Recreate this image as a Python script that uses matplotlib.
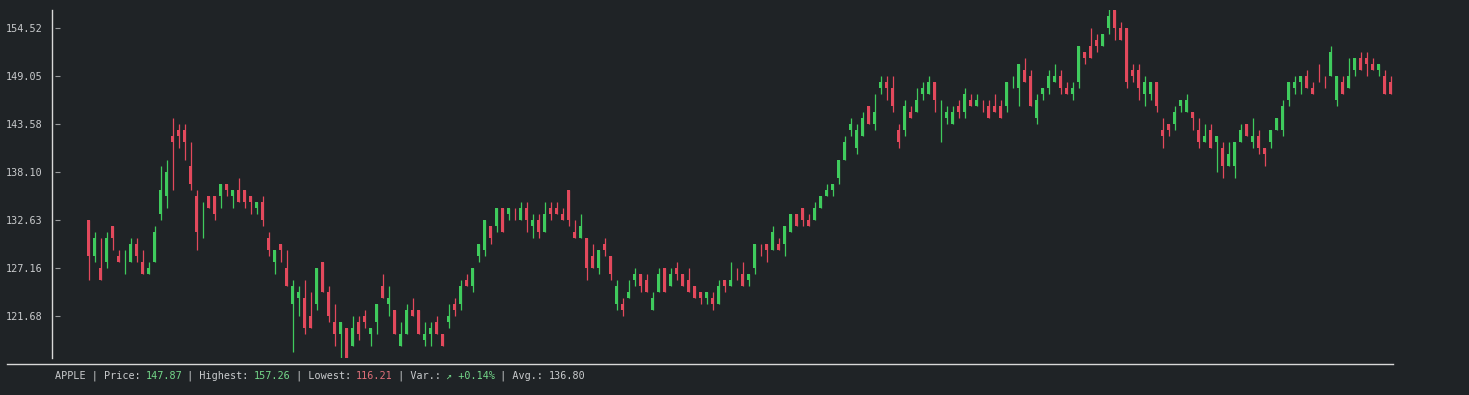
import numpy as np
import matplotlib
matplotlib.use("Agg")
import matplotlib.pyplot as plt
from matplotlib.lines import Line2D
from matplotlib.transforms import ScaledTranslation

# ---------------- data ----------------
opens = [
    132.63, 128.53, 127.16, 127.84, 131.95, 128.53, 127.84, 127.84, 129.89, 127.84,
    126.47, 127.84, 133.31, 135.37, 142.21, 142.89, 142.89, 138.79, 135.37, 132.63,
    135.37, 135.37, 135.37, 136.74, 135.37, 136.05, 136.05, 135.37, 134.00, 134.68,
    130.58, 127.84, 129.89, 127.16, 123.05, 123.74, 123.74, 121.68, 123.05, 127.84,
    124.42, 121.00, 119.63, 120.31, 118.26, 121.00, 121.68, 119.63, 121.00, 125.10,
    123.05, 122.37, 118.26, 119.63, 122.37, 122.37, 118.94, 119.63, 121.00, 119.63,
    121.00, 123.05, 123.05, 125.79, 125.10, 128.53, 129.21, 131.95, 131.95, 134.00,
    133.31, 133.31, 132.63, 134.00, 131.95, 132.63, 131.26, 134.00, 134.00, 133.31,
    136.05, 131.26, 130.58, 130.58, 128.53, 127.16, 129.89, 128.53, 123.05, 123.05,
    123.74, 125.79, 126.47, 125.79, 122.37, 124.42, 127.16, 125.10, 127.16, 126.47,
    125.79, 125.10, 124.42, 123.74, 123.74, 123.05, 125.79, 125.10, 126.47, 126.47,
    125.79, 127.16, 129.21, 129.89, 129.21, 129.89, 129.89, 131.26, 133.31, 134.00,
    132.63, 132.63, 134.00, 135.37, 136.05, 137.42, 139.47, 142.89, 140.84, 142.21,
    145.63, 143.58, 147.68, 148.37, 147.68, 142.89, 142.89, 144.94, 144.94, 147.00,
    147.00, 148.37, 145.63, 144.26, 143.58, 145.63, 144.94, 146.31, 145.63, 145.63,
    145.63, 145.63, 145.63, 145.63, 148.37, 147.68, 149.73, 149.05, 144.26, 147.00,
    147.68, 148.37, 149.05, 147.68, 147.00, 148.37, 151.79, 152.47, 153.15, 152.47,
    154.52, 156.57, 154.52, 154.52, 149.73, 149.73, 147.00, 147.00, 148.37, 142.89,
    143.58, 143.58, 145.63, 144.94, 144.94, 142.89, 141.52, 142.89, 141.52, 140.84,
    138.79, 138.79, 141.52, 143.58, 141.52, 142.21, 140.84, 141.52, 142.89, 142.89,
    146.31, 147.68, 148.37, 149.05, 147.68, 149.05, 148.37, 149.05, 146.31, 148.37,
    147.68, 149.73, 151.10, 151.10, 150.42, 149.73, 149.05, 148.37,
]
highs = [
    132.63, 131.26, 130.58, 131.26, 131.95, 129.21, 129.21, 130.58, 130.58, 129.21,
    127.84, 131.95, 138.79, 139.47, 144.26, 143.58, 143.58, 141.52, 136.05, 134.68,
    135.37, 135.37, 136.74, 136.74, 136.05, 137.42, 136.05, 135.37, 134.68, 135.37,
    131.26, 129.21, 129.89, 129.21, 125.79, 125.10, 125.79, 124.42, 127.16, 127.84,
    125.10, 123.05, 121.00, 120.31, 121.68, 121.68, 122.37, 120.31, 123.05, 126.47,
    125.10, 122.37, 121.00, 123.05, 123.74, 122.37, 121.00, 121.00, 121.68, 119.63,
    123.05, 123.74, 125.79, 126.47, 127.16, 129.89, 132.63, 131.95, 134.00, 134.00,
    134.00, 134.00, 134.68, 134.68, 133.31, 133.31, 134.68, 134.68, 134.68, 134.00,
    136.05, 132.63, 133.31, 130.58, 129.89, 129.21, 130.58, 128.53, 125.79, 123.74,
    125.79, 127.16, 126.47, 126.47, 124.42, 127.16, 127.16, 127.16, 127.84, 126.47,
    127.16, 125.10, 124.42, 124.42, 124.42, 125.79, 125.79, 127.84, 127.16, 127.84,
    126.47, 129.89, 129.89, 129.89, 131.95, 130.58, 131.95, 133.31, 133.31, 134.00,
    133.31, 134.68, 135.37, 136.74, 136.74, 139.47, 142.21, 144.26, 143.58, 144.94,
    145.63, 147.00, 149.05, 149.05, 149.05, 143.58, 146.31, 145.63, 147.68, 148.37,
    149.05, 148.37, 146.31, 145.63, 145.63, 146.31, 147.68, 147.00, 147.00, 146.31,
    146.31, 147.00, 146.31, 148.37, 149.05, 150.42, 151.10, 149.73, 147.00, 147.68,
    149.73, 150.42, 149.73, 148.37, 148.37, 152.47, 151.79, 154.52, 153.84, 153.84,
    157.26, 156.57, 155.21, 154.52, 150.42, 150.42, 149.05, 148.37, 148.37, 144.26,
    143.58, 145.63, 146.31, 147.00, 144.94, 144.26, 143.58, 143.58, 142.21, 141.52,
    141.52, 141.52, 143.58, 143.58, 144.26, 142.89, 140.84, 142.89, 144.26, 146.31,
    148.37, 149.05, 149.05, 149.73, 148.37, 150.42, 149.05, 152.47, 149.05, 149.05,
    151.10, 151.10, 151.79, 151.79, 151.10, 150.42, 149.73, 149.05,
]
lows = [
    125.79, 127.84, 125.79, 127.16, 129.21, 127.84, 126.47, 127.84, 127.84, 126.47,
    126.47, 127.84, 132.63, 134.00, 136.05, 140.84, 139.47, 136.05, 129.21, 130.58,
    134.00, 132.63, 134.00, 135.37, 134.00, 134.68, 134.00, 133.31, 133.31, 131.95,
    128.53, 126.47, 127.84, 125.10, 117.58, 121.68, 119.63, 120.31, 122.37, 124.42,
    121.00, 118.26, 116.21, 116.89, 118.26, 118.94, 120.31, 118.26, 119.63, 123.74,
    121.68, 119.63, 118.26, 119.63, 121.68, 119.63, 118.26, 118.26, 119.63, 118.26,
    120.31, 121.68, 122.37, 125.10, 124.42, 127.84, 128.53, 129.89, 131.26, 131.26,
    132.63, 132.63, 132.63, 131.26, 130.58, 130.58, 131.26, 132.63, 133.31, 132.63,
    131.95, 130.58, 130.58, 125.79, 127.16, 126.47, 128.53, 125.79, 122.37, 121.68,
    123.74, 125.10, 124.42, 124.42, 122.37, 124.42, 124.42, 125.10, 125.79, 125.10,
    124.42, 123.74, 123.05, 123.05, 122.37, 123.05, 124.42, 125.10, 125.79, 125.10,
    125.10, 126.47, 128.53, 127.84, 129.21, 129.21, 128.53, 131.26, 131.95, 131.95,
    131.95, 132.63, 134.00, 135.37, 135.37, 136.74, 139.47, 142.21, 140.16, 142.21,
    143.58, 142.89, 147.00, 146.31, 144.94, 140.84, 142.21, 144.26, 144.94, 146.31,
    147.00, 144.94, 141.52, 143.58, 143.58, 144.26, 144.26, 145.63, 145.63, 144.94,
    144.26, 144.94, 144.26, 144.94, 147.68, 145.63, 148.37, 145.63, 143.58, 146.31,
    147.00, 148.37, 147.00, 147.00, 146.31, 147.68, 150.42, 151.10, 151.79, 152.47,
    153.84, 153.15, 153.15, 147.68, 148.37, 146.31, 145.63, 146.31, 144.94, 140.84,
    142.21, 142.89, 144.94, 144.94, 142.89, 140.84, 141.52, 140.84, 138.10, 137.42,
    138.79, 137.42, 141.52, 142.21, 140.84, 140.16, 138.79, 140.84, 142.89, 142.21,
    145.63, 147.00, 147.00, 147.68, 147.00, 148.37, 147.68, 149.05, 145.63, 147.00,
    147.68, 149.05, 149.73, 149.05, 149.73, 149.05, 147.00, 147.00,
]
closes = [
    128.53, 130.58, 125.79, 130.58, 130.58, 127.84, 127.84, 129.89, 128.53, 126.47,
    127.16, 131.26, 136.05, 138.10, 141.52, 142.21, 141.52, 136.74, 131.26, 132.63,
    134.00, 133.31, 136.74, 136.05, 136.05, 134.68, 134.68, 134.68, 134.68, 132.63,
    129.21, 129.21, 129.21, 125.10, 125.10, 124.42, 120.31, 120.31, 127.16, 124.42,
    121.68, 119.63, 121.00, 116.89, 120.31, 119.63, 121.00, 120.31, 123.05, 123.74,
    123.74, 119.63, 119.63, 122.37, 121.68, 119.63, 119.63, 120.31, 119.63, 118.26,
    121.68, 122.37, 125.10, 125.10, 127.16, 129.89, 132.63, 130.58, 134.00, 131.26,
    134.00, 133.30, 134.00, 132.63, 132.63, 131.26, 133.31, 133.31, 133.31, 132.63,
    132.63, 130.58, 131.95, 127.16, 127.16, 129.21, 129.21, 126.47, 125.10, 122.37,
    124.42, 126.47, 125.10, 124.42, 123.74, 126.47, 124.42, 126.47, 126.47, 125.10,
    124.42, 123.74, 123.74, 124.42, 123.05, 125.10, 125.10, 125.79, 126.46, 125.10,
    126.47, 129.89, 129.20, 129.21, 131.26, 129.21, 131.95, 133.31, 131.95, 132.63,
    131.95, 134.00, 135.37, 136.05, 136.74, 139.47, 141.52, 143.58, 142.89, 144.26,
    143.58, 144.94, 148.37, 147.68, 145.63, 141.52, 145.63, 144.26, 146.31, 147.68,
    148.37, 146.31, 145.63, 144.94, 144.94, 144.94, 147.00, 145.63, 146.31, 145.62,
    144.26, 144.94, 144.26, 148.37, 148.37, 150.42, 148.37, 145.63, 146.31, 147.68,
    149.05, 149.05, 147.68, 147.00, 147.68, 152.47, 151.10, 151.10, 152.47, 153.84,
    155.89, 154.52, 153.15, 148.37, 149.05, 147.68, 148.37, 148.37, 145.63, 142.21,
    142.89, 144.94, 146.31, 146.31, 144.26, 141.52, 142.21, 140.84, 142.21, 138.79,
    140.16, 141.52, 142.89, 142.21, 142.21, 140.84, 140.16, 142.89, 144.26, 145.63,
    148.37, 148.37, 149.05, 147.68, 147.00, 149.04, 148.36, 151.79, 149.05, 147.00,
    149.05, 151.10, 149.73, 150.42, 149.73, 150.42, 147.00, 147.00,
]
ytick_values = [121.68, 127.16, 132.63, 138.10, 143.58, 149.05, 154.52]
ticker = "APPLE"
info_price = "147.87"
info_high = "157.26"
info_low = "116.21"
info_var = "\u2197 +0.14%"
info_avg = "136.80"

# ---------------- style ----------------
BG = "#1f2326"
GREEN = "#3fcb5d"
RED = "#e2495c"
TXT = "#c9cbcd"
TXT_GREEN = "#74d88a"
TXT_RED = "#e0707a"
FONT = "DejaVu Sans Mono"
FS = 7.3

W, H = 1469, 395
fig = plt.figure(figsize=(W / 100, H / 100), dpi=100, facecolor=BG)
ax = fig.add_axes([55 / W, 1 - 358 / H, (1393 - 55) / W, (358 - 10) / H])
ax.set_facecolor(BG)

o = np.array(opens)
h = np.array(highs)
l = np.array(lows)
c = np.array(closes)
x = np.arange(len(o))
up = c >= o
colors = np.where(up, GREEN, RED)

ax.vlines(x, l, h, colors=colors, linewidth=0.9)
bottoms = np.minimum(o, c)
heights = np.abs(c - o)
ax.bar(x, heights, bottom=bottoms, width=0.5, color=colors, linewidth=0)

ax.set_xlim(-5.617, 217.383)
ax.set_ylim(116.89, 156.57)

for s in ax.spines.values():
    s.set_visible(False)
ax.set_xticks([])
ax.set_yticks(ytick_values)
ax.set_yticklabels([f"{v:.2f}" for v in ytick_values], fontfamily=FONT,
                   fontsize=FS, color=TXT)
ax.tick_params(axis="y", direction="in", length=3.8, width=0.8,
               color="#9a9c9e", pad=8.8)

# left axis line slightly left of tick marks
trans = ax.transAxes + ScaledTranslation(-3 / 100, 0, fig.dpi_scale_trans)
ax.add_line(Line2D([0, 0], [0, 1], transform=trans, color="#d8d8d8",
                   linewidth=1.0, clip_on=False))

# bottom separator line
fig.add_artist(Line2D([7 / W, 1393 / W], [1 - 364 / H, 1 - 364 / H],
                      color="#d8d8d8", linewidth=1.0))

# info line
segments = [
    (f"{ticker} | Price: ", TXT),
    (info_price, TXT_GREEN),
    (" | Highest: ", TXT),
    (info_high, TXT_GREEN),
    (" | Lowest: ", TXT),
    (info_low, TXT_RED),
    (" | Var.: ", TXT),
    (info_var, TXT_GREEN),
    (" | Avg.: ", TXT),
    (info_avg, TXT),
]
cw = 6.02
pos = 0
for txt, col in segments:
    fig.text((55 + pos * cw) / W, 1 - 376 / H, txt, color=col, fontsize=FS,
             fontfamily=FONT, va="center", ha="left")
    pos += len(txt)

fig.savefig("out.png", dpi=100, facecolor=BG)
